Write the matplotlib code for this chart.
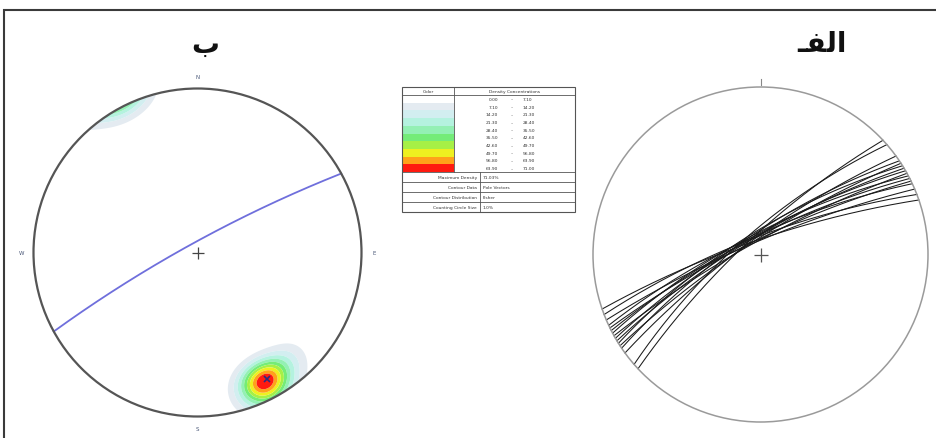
import numpy as np
import matplotlib
matplotlib.use("Agg")
import matplotlib.pyplot as plt
from matplotlib.patches import Circle, Rectangle

# Joint planes shown as great circles (dip direction / dip, degrees)
plane_dipdir = [317, 319, 324, 326, 327, 328, 329, 330, 331, 332, 333, 334, 335, 337, 339, 341]
plane_dip = [78, 75, 79, 76, 80, 75, 78, 77, 81, 76, 78, 80, 77, 81, 78, 80]

# Pole vectors used for the density contours (trend / plunge, degrees)
pole_trend = [153, 150, 156, 152, 154, 149, 157, 149, 157, 147,
              158, 145, 160, 151, 153, 141, 155, 148, 137, 152]
pole_plunge = [7, 5, 8, 6, 9, 7, 6, 9, 5, 8,
               6, 9, 7, 5, 9, 8, 6, 7, 9, 5]

# Density concentration classes (% of total per 1% area)
level_low = [0.00, 7.10, 14.20, 21.30, 28.40, 35.50, 42.60, 49.70, 56.80, 63.90]
level_high = [7.10, 14.20, 21.30, 28.40, 35.50, 42.60, 49.70, 56.80, 63.90, 71.00]
level_colors = ['#ffffff', '#e4ebf1', '#d2eef0', '#b4f2df', '#93f0b4',
                '#74ec78', '#a6f046', '#eef020', '#ffa21a', '#ff1a10']

table_labels = ["Maximum Density", "Contour Data", "Contour Distribution", "Counting Circle Size"]
table_values = ["71.03%", "Pole Vectors", "Fisher", "1.0%"]

compass = ["N", "E", "S", "W"]
title_left = "\u0628"                          # ب
title_right = "\u0640\uFED4\uFEDF\uFE8D"       # الف (shaped, visual order)

KAPPA = 100.0


def stereo_xy(trend, plunge):
    """Equal-angle, lower-hemisphere projection."""
    t = np.radians(trend)
    p = np.radians(plunge)
    r = np.tan(np.pi / 4 - p / 2)
    return r * np.sin(t), r * np.cos(t)


def great_circle(dipdir, dip, n=361):
    dd = np.radians(dipdir)
    d = np.radians(dip)
    a = np.linspace(0, np.pi, n)
    s = np.array([np.sin(dd - np.pi / 2), np.cos(dd - np.pi / 2), 0.0])
    v = np.array([np.sin(dd) * np.cos(d), np.cos(dd) * np.cos(d), np.sin(d)])
    vec = np.outer(np.cos(a), s) + np.outer(np.sin(a), v)
    plunge = np.degrees(np.arcsin(np.clip(vec[:, 2], -1, 1)))
    trend = np.degrees(np.arctan2(vec[:, 0], vec[:, 1]))
    return stereo_xy(trend, plunge)


def pole_vectors(trend, plunge):
    t = np.radians(np.asarray(trend, float))
    p = np.radians(np.asarray(plunge, float))
    return np.cos(p) * np.sin(t), np.cos(p) * np.cos(t), np.sin(p)


def fisher_density(trend, plunge, kappa=KAPPA, n=451):
    g = np.linspace(-1.03, 1.03, n)
    X, Y = np.meshgrid(g, g)
    R = np.hypot(X, Y)
    theta = 2 * np.arctan(R)
    az = np.arctan2(X, Y)
    gx = np.sin(theta) * np.sin(az)
    gy = np.sin(theta) * np.cos(az)
    gz = np.cos(theta)
    px, py, pz = pole_vectors(trend, plunge)
    c = np.abs(gx[..., None] * px + gy[..., None] * py + gz[..., None] * pz)
    dens = 100.0 / len(px) * (0.01 * kappa) * np.exp(kappa * (c - 1)).sum(-1)
    return X, Y, dens


W, H = 936, 439
fig = plt.figure(figsize=(W / 100, H / 100), dpi=100)
fig.patch.set_facecolor('white')

# overlay in pixel coordinates for frame, titles and table
ax0 = fig.add_axes([0, 0, 1, 1])
ax0.set_xlim(0, W)
ax0.set_ylim(H, 0)
ax0.axis('off')


def net_axes(cx, cy, R):
    half = 1.1 * R
    ax = fig.add_axes([(cx - half) / W, (H - cy - half) / H, 2 * half / W, 2 * half / H])
    ax.set_xlim(-1.1, 1.1)
    ax.set_ylim(-1.1, 1.1)
    ax.axis('off')
    return ax


# ---------------- left net: pole density ----------------
axL = net_axes(197.5, 253.5, 164)
X, Y, dens = fisher_density(pole_trend, pole_plunge)
clip = Circle((0, 0), 1.0, transform=axL.transData)
cf = axL.contourf(X, Y, dens, levels=level_low[1:] + [1e6], colors=level_colors[1:],
                  antialiased=True, zorder=1)
cf.set_clip_path(clip)

px, py, pz = pole_vectors(pole_trend, pole_plunge)
mx, my, mz = px.mean(), py.mean(), pz.mean()
mnorm = np.sqrt(mx ** 2 + my ** 2 + mz ** 2)
mean_trend = np.degrees(np.arctan2(mx, my))
mean_plunge = np.degrees(np.arcsin(mz / mnorm))
gx_, gy_ = great_circle(mean_trend + 180, 90 - mean_plunge)
axL.plot(gx_, gy_, color='#6f6fdc', lw=1.3, zorder=3)
mpx, mpy = stereo_xy(mean_trend, mean_plunge)
axL.plot(mpx, mpy, marker='x', ms=4, mew=1.2, color='#2b2b80', zorder=4)

axL.add_patch(Circle((0, 0), 1.0, fill=False, ec='#555555', lw=1.6, zorder=5))
axL.plot(0, 0, marker='+', ms=9, mew=0.9, color='#444444', zorder=5)
for lab, ang in zip(compass, [0, 90, 180, 270]):
    a = np.radians(ang)
    axL.text(1.075 * np.sin(a), 1.075 * np.cos(a), lab, fontsize=4, color='#4a5878',
             ha='center', va='center')

# ---------------- right net: great circles ----------------
axR = net_axes(760.5, 255.5, 167.5)
for dd, dp in zip(plane_dipdir, plane_dip):
    x, y = great_circle(dd, dp)
    axR.plot(x, y, color='#1a1a1a', lw=0.75, zorder=2)
axR.add_patch(Circle((0, 0), 1.0, fill=False, ec='#9a9a9a', lw=1.1, zorder=3))
axR.plot(0, 0, marker='+', ms=10, mew=0.9, color='#555555', zorder=4)
axR.plot([0, 0], [1.01, 1.05], color='#888888', lw=0.8)

# ---------------- frame and titles ----------------
ax0.plot([4, 4, W + 5], [H + 5, 11, 11], color='#3a3a3a', lw=1.5, solid_joinstyle='miter')
ax0.text(205, 45, title_left, fontsize=20, family=['DejaVu Sans'], weight='bold',
         ha='center', va='center', color='#111111')
ax0.text(822, 44, title_right, fontsize=20, family=['DejaVu Sans'], weight='bold',
         ha='center', va='center', color='#111111')

# ---------------- density table ----------------
tx0, tx1, tdiv = 402, 575, 454
ty0, thead = 88, 96
row_h = 7.7
ty_rows_end = thead + row_h * len(level_low)
brow_h = 10
ty1 = ty_rows_end + brow_h * len(table_labels)
lc = '#555555'
lw = 0.6
for i, col in enumerate(level_colors):
    ax0.add_patch(Rectangle((tx0, thead + i * row_h), tdiv - tx0, row_h, fc=col, ec='none'))
    yc = thead + (i + 0.5) * row_h
    ax0.text(498, yc, f"{level_low[i]:.2f}", fontsize=3.2, ha='right', va='center', color='#333')
    ax0.text(512, yc, "\u2013", fontsize=3.2, ha='center', va='center', color='#333')
    ax0.text(523, yc, f"{level_high[i]:.2f}", fontsize=3.2, ha='left', va='center', color='#333')
ax0.add_patch(Rectangle((tx0, ty0), tx1 - tx0, ty1 - ty0, fill=False, ec=lc, lw=0.8))
ax0.plot([tx0, tx1], [thead, thead], color=lc, lw=lw)
ax0.plot([tdiv, tdiv], [ty0, ty_rows_end], color=lc, lw=lw)
ax0.text((tx0 + tdiv) / 2, (ty0 + thead) / 2, "Color", fontsize=3.2, ha='center', va='center', color='#333')
ax0.text((tdiv + tx1) / 2, (ty0 + thead) / 2, "Density Concentrations", fontsize=3.2,
         ha='center', va='center', color='#333')
for j, (lab, val) in enumerate(zip(table_labels, table_values)):
    yt = ty_rows_end + j * brow_h
    ax0.plot([tx0, tx1], [yt, yt], color=lc, lw=lw)
    ax0.text(477, yt + brow_h / 2, lab, fontsize=3.2, ha='right', va='center', color='#333')
    ax0.text(483, yt + brow_h / 2, val, fontsize=3.2, ha='left', va='center', color='#333')
ax0.plot([480, 480], [ty_rows_end, ty1], color=lc, lw=lw)

fig.savefig("out.png", dpi=100, facecolor='white')
